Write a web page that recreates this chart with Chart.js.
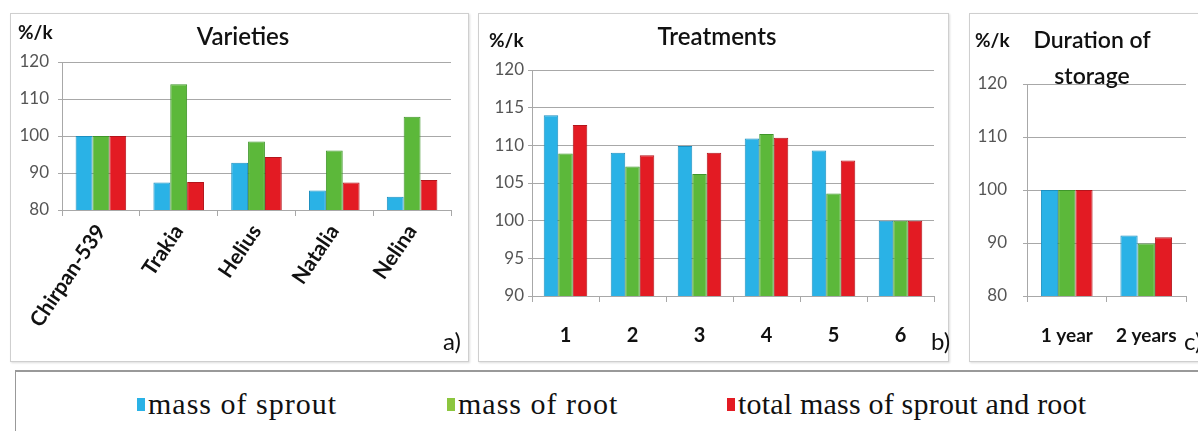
<!DOCTYPE html>
<html>
<head>
<meta charset="utf-8">
<script src="https://cdn.jsdelivr.net/npm/chart.js@4"></script>
<style>
  html, body { margin: 0; padding: 0; background: #fff; width: 1198px; height: 431px; overflow: hidden; }
  .panel { position: absolute; top: 13px; height: 347px; border: 1px solid #cfcfcf; box-shadow: 1px 1px 2px #ddd; background: #fff; }
  .panel canvas { position: absolute; left: 0; top: 0; }
  .lbl { position: absolute; font-family: Lato, sans-serif; color: #111; white-space: nowrap; }
  .unit { font-size: 19px; font-weight: bold; }
  .title { font-size: 24px; font-weight: 600; text-align: center; line-height: 34px; }
  .tag { font-size: 24px; }
  #legend { position: absolute; left: 15px; top: 370px; width: 1200px; height: 70px; border: 1px solid #999; border-top: 2px solid #999; background: #fff; }
  .item { position: absolute; top: 15px; font-family: "Liberation Serif", "Times New Roman", serif; font-size: 30px; letter-spacing: 1px; color: #111; }
  .item i { display: inline-block; width: 8px; height: 13px; margin-right: 3px; vertical-align: 3px; }
</style>
</head>
<body>

<div class="panel" id="pa" style="left:10px;width:457px;">
  <canvas id="chartA" width="457" height="347"></canvas>
  <div class="lbl unit" style="left:7px;top:6px;">%/k</div>
  <div class="lbl title" style="left:132px;top:5px;width:200px;">Varieties</div>
  <div class="lbl tag" style="left:432px;top:312px;">a)</div>
</div>

<div class="panel" id="pb" style="left:478px;width:469px;">
  <canvas id="chartB" width="469" height="347"></canvas>
  <div class="lbl unit" style="left:10px;top:14px;">%/k</div>
  <div class="lbl title" style="left:138px;top:5px;width:200px;">Treatments</div>
  <div class="lbl tag" style="left:452px;top:312px;">b)</div>
</div>

<div class="panel" id="pc" style="left:969px;width:240px;">
  <canvas id="chartC" width="240" height="347"></canvas>
  <div class="lbl unit" style="left:5px;top:14px;">%/k</div>
  <div class="lbl title" style="left:52px;top:7px;width:140px;font-size:23px;line-height:36px;">Duration of<br>storage</div>
  <div class="lbl tag" style="left:214px;top:312px;">c)</div>
</div>

<div id="legend">
  <div class="item" style="left:121px;"><i style="background:#2ab2e6"></i>mass of sprout</div>
  <div class="item" style="left:431px;"><i style="background:#8cc63f"></i>mass of root</div>
  <div class="item" style="left:711px;letter-spacing:0.2px;"><i style="background:#e31b23"></i>total mass of sprout and root</div>
</div>

<script>
// ---- data ----
const seriesNames = ['mass of sprout', 'mass of root', 'total mass of sprout and root'];

const varieties  = ['Chirpan-539', 'Trakia', 'Helius', 'Natalia', 'Nelina'];
const varSprout  = [100, 87.4, 92.8, 85.3, 83.6];
const varRoot    = [100, 114.0, 98.5, 96.1, 105.2];
const varTotal   = [100, 87.6, 94.3, 87.4, 88.1];
const varTicks   = [80, 90, 100, 110, 120];

const treatments = ['1', '2', '3', '4', '5', '6'];
const trSprout   = [114.0, 109.0, 109.9, 110.9, 109.3, 100];
const trRoot     = [108.9, 107.2, 106.2, 111.5, 103.6, 100];
const trTotal    = [112.7, 108.7, 109.0, 111.0, 108.0, 100];
const trTicks    = [90, 95, 100, 105, 110, 115, 120];

const durations  = ['1 year', '2 years'];
const durSprout  = [100, 91.4];
const durRoot    = [100, 89.9];
const durTotal   = [100, 91.1];
const durTicks   = [80, 90, 100, 110, 120];

const fills   = ['#2ab2e6', '#5cb83a', '#e31b23'];
const borders = ['#1b8fc0', '#3f962a', '#b3151b'];
const GRID = '#a8a8a8';

function datasets(vals) {
  return vals.map((v, i) => ({
    label: seriesNames[i], data: v,
    backgroundColor: fills[i], borderColor: borders[i], borderWidth: 1,
    barPercentage: 1, categoryPercentage: 0.65,
  }));
}

function makeChart(id, labels, vals, ticks, o) {
  const ctx = document.getElementById(id).getContext('2d');
  return new Chart(ctx, {
    type: 'bar',
    data: { labels, datasets: datasets(vals) },
    options: {
      responsive: false, animation: false, events: [],
      layout: { padding: { top: o.top, right: o.right, left: 0, bottom: o.bottom } },
      plugins: { legend: { display: false }, tooltip: { enabled: false } },
      scales: {
        x: {
          grid: { offset: true, drawOnChartArea: false, drawTicks: true, tickLength: 6, color: GRID },
          border: { color: GRID },
          ticks: {
            color: '#111', padding: o.xPad, autoSkip: false,
            minRotation: o.rot, maxRotation: o.rot,
            font: { family: 'Lato', size: o.xSize, weight: 'bold' },
          },
          afterFit: s => { s.height = o.xh; },
        },
        y: {
          min: ticks[0], max: ticks[ticks.length - 1],
          grid: { color: GRID, drawTicks: true, tickLength: 4 },
          border: { color: GRID },
          ticks: {
            stepSize: ticks[1] - ticks[0], color: '#555', padding: o.yPad,
            font: { family: 'Lato', size: 17 },
          },
          afterFit: s => { s.width = o.yw; },
        },
      },
    },
  });
}

makeChart('chartA', varieties, [varSprout, varRoot, varTotal], varTicks,
  { top: 48, right: 17, bottom: 11, xh: 140, yw: 51, yPad: 9, xPad: 4, rot: 56, xSize: 21 });
makeChart('chartB', treatments, [trSprout, trRoot, trTotal], trTicks,
  { top: 56, right: 14, bottom: 15, xh: 50, yw: 53, yPad: 4, xPad: 22, rot: 0, xSize: 20 });
makeChart('chartC', durations, [durSprout, durRoot, durTotal], durTicks,
  { top: 70, right: 24, bottom: 15, xh: 50, yw: 57, yPad: 16, xPad: 22, rot: 0, xSize: 19 });
</script>
</body>
</html>
